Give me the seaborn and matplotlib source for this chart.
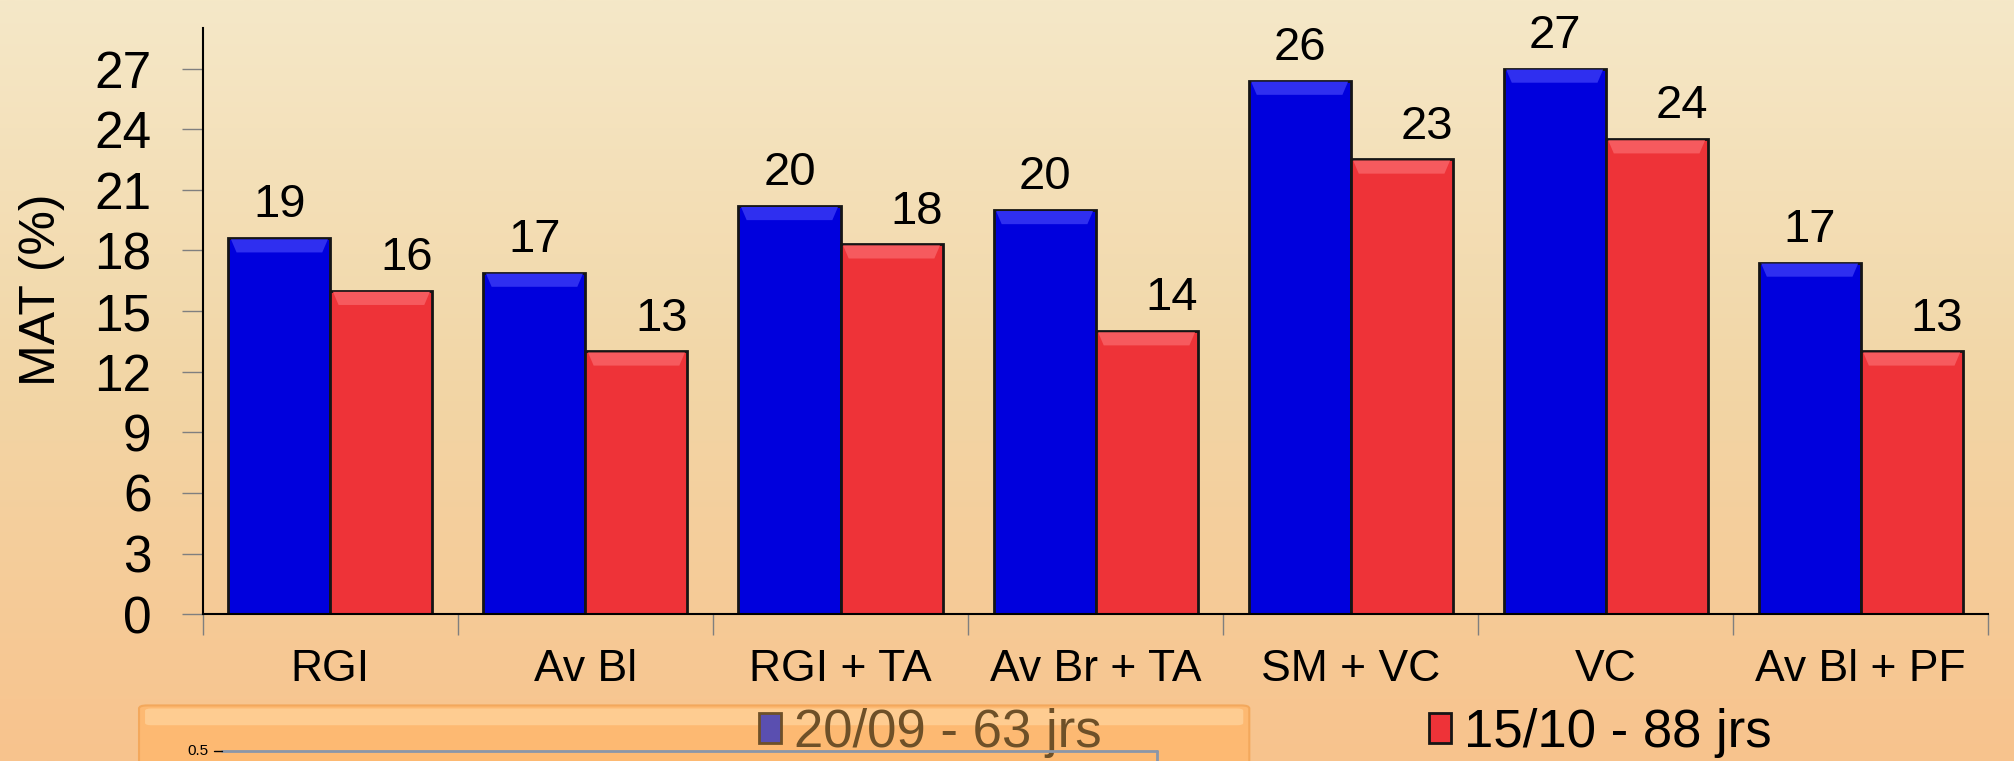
import numpy as np
import pandas as pd
import matplotlib
matplotlib.use("Agg")
import matplotlib.pyplot as plt
import seaborn as sns
from matplotlib.colors import LinearSegmentedColormap
from matplotlib.patches import FancyBboxPatch, Polygon
from matplotlib.lines import Line2D

# data
categories = ["RGI", "Av Bl", "RGI + TA", "Av Br + TA", "SM + VC", "VC", "Av Bl + PF"]
series_names = ["20/09 - 63 jrs", "15/10 - 88 jrs"]
values_sep = [18.6, 16.9, 20.2, 20.0, 26.4, 27.0, 17.4]
values_oct = [16.0, 13.0, 18.3, 14.0, 22.5, 23.5, 13.0]
labels_sep = ["19", "17", "20", "20", "26", "27", "17"]
labels_oct = ["16", "13", "18", "14", "23", "24", "13"]
y_ticks = list(range(0, 28, 3))

df = pd.DataFrame({
    "Combinaison": categories * 2,
    "MAT": values_sep + values_oct,
    "Serie": [series_names[0]] * len(categories) + [series_names[1]] * len(categories),
})

sns.set_theme(style="ticks")
plt.rcParams["font.family"] = ["Liberation Sans", "DejaVu Sans"]
plt.rcParams["text.color"] = "black"
plt.rcParams["xtick.color"] = "black"
plt.rcParams["ytick.color"] = "black"
plt.rcParams["axes.labelcolor"] = "black"

fig = plt.figure(figsize=(20.15, 7.61), dpi=100)

# slide background gradient
bg = fig.add_axes([0, 0, 1, 1], zorder=-10)
grad = np.linspace(0, 1, 256).reshape(-1, 1)
cmap = LinearSegmentedColormap.from_list("bg", ["#F5E8C8", "#F2D6A6", "#F8C38D"])
bg.imshow(grad, aspect="auto", cmap=cmap, extent=[0, 1, 0, 1], origin="upper")
bg.axis("off")

ax = fig.add_axes([0.1007, 0.193, 0.886, 0.770])
ax.set_facecolor("none")

sns.barplot(data=df, x="Combinaison", y="MAT", hue="Serie",
            palette=["#0000DD", "#EE3338"], saturation=1, width=0.8,
            errorbar=None, edgecolor="#151515", linewidth=2, ax=ax)

handles, labels = ax.get_legend_handles_labels()
ax.get_legend().remove()

# bevel highlight + value labels
light = ["#2F2FF0", "#F65A5E"]
for i, (cont, labs) in enumerate(zip(ax.containers, [labels_sep, labels_oct])):
    for p, lab in zip(cont.patches, labs):
        x, w, h = p.get_x(), p.get_width(), p.get_height()
        d = w * 0.08
        ax.add_patch(Polygon([(x + 0.01, h - 0.05), (x + w - 0.01, h - 0.05),
                              (x + w - d, h - 0.7), (x + d, h - 0.7)],
                             closed=True, facecolor=light[i], edgecolor="none", zorder=3))
        dx = 0 if i == 0 else 18
        ax.annotate(lab, (x + w / 2, h), xytext=(dx, 15), textcoords="offset points",
                    ha="center", va="baseline", fontsize=34, color="black")

ax.set_xlim(-0.5, len(categories) - 0.5)
ax.set_ylim(0, 29)
ax.set_yticks(y_ticks)
ax.set_xticks(np.arange(-0.5, len(categories), 1), minor=True)
ax.tick_params(axis="y", length=15, width=1, color="#7f7f7f", labelcolor="black",
               pad=22, labelsize=37)
ax.tick_params(axis="x", which="major", length=0, pad=25, labelsize=32, labelcolor="black")
ax.tick_params(axis="x", which="minor", length=15, width=1, color="#7f7f7f")
ax.set_xlabel("")
ax.set_ylabel("MAT (%)", fontsize=36, color="black")
ax.yaxis.set_label_coords(-0.077, 0.553)
sns.despine(ax=ax)
for s in ["left", "bottom"]:
    ax.spines[s].set_color("black")
    ax.spines[s].set_linewidth(1.5)

# overlapping orange slide element at bottom left (drawn under the first legend entry)
box = FancyBboxPatch((0.069, -0.05), 0.551, 0.123, boxstyle="round,pad=0,rounding_size=0.004",
                     transform=fig.transFigure, facecolor="#FDB972", edgecolor="#F3A85C",
                     lw=1.5, zorder=2)
fig.add_artist(box)
band = FancyBboxPatch((0.072, 0.047), 0.545, 0.022, boxstyle="round,pad=0,rounding_size=0.003",
                      transform=fig.transFigure, facecolor="#FFD29A", edgecolor="none",
                      alpha=0.8, zorder=2)
fig.add_artist(band)

leg = fig.legend(handles, labels, loc="center", bbox_to_anchor=(0.628, 0.037), ncol=2,
                 frameon=False, fontsize=38, handlelength=0.42, handleheight=0.5,
                 handletextpad=0.25, columnspacing=6.2)
leg.set_zorder(5)
leg.get_texts()[0].set_color("#6E5028")
leg.legend_handles[0].set_facecolor("#5A4FB0")
leg.legend_handles[0].set_edgecolor("#6E5028")

# small chart frame inside the orange element
fig.add_artist(Line2D([0.110, 0.574], [0.013, 0.013], transform=fig.transFigure,
                      color="#8A96A8", lw=2, zorder=7))
fig.add_artist(Line2D([0.574, 0.574], [0.013, -0.01], transform=fig.transFigure,
                      color="#8A96A8", lw=2, zorder=7))
fig.add_artist(Line2D([0.106, 0.110], [0.013, 0.013], transform=fig.transFigure,
                      color="black", lw=1, zorder=7))
fig.text(0.098, 0.013, "0.5", fontsize=11, ha="center", va="center", zorder=7)

fig.savefig("out.png", dpi=100)
